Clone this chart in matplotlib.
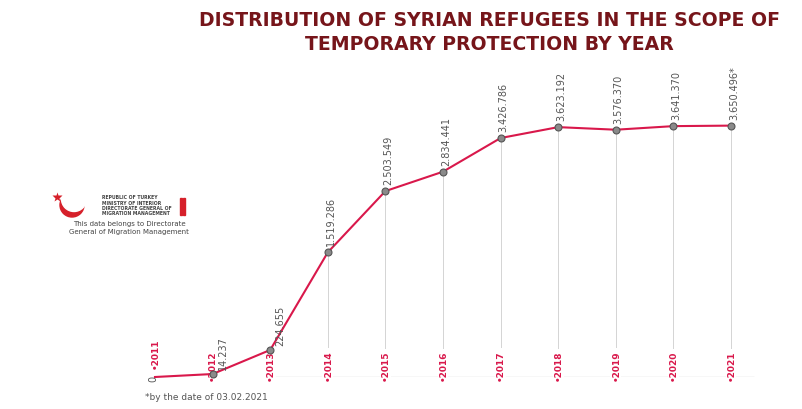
import numpy as np
import matplotlib
matplotlib.use("Agg")
import matplotlib.pyplot as plt
from matplotlib.patches import Circle, Rectangle

# data
years = ["2011", "2012", "2013", "2014", "2015", "2016", "2017", "2018", "2019", "2020", "2021"]
refugees = [0, 14237, 224655, 1519286, 2503549, 2834441, 3426786, 3623192, 3576370, 3641370, 3650496]
value_labels = ["0", "14.237", "224.655", "1.519.286", "2.503.549", "2.834.441",
                "3.426.786", "3.623.192", "3.576.370", "3.641.370", "3.650.496*"]

line_col = "#d9184b"
title_col = "#76151a"
narrow = ["Liberation Sans Narrow", "DejaVu Sans"]

fig = plt.figure(figsize=(8.02, 4.10), dpi=100)
fig.patch.set_facecolor("white")

# main axes, 0 sits at pixel y=378
ax = fig.add_axes([100 / 802, 1 - 378 / 410, 680 / 802, 278 / 410])
ax.axis("off")

# the infographic is not drawn linearly, a mild power scale is close
def fwd(v):
    v = np.asarray(v, dtype=float)
    return np.sign(v) * np.abs(v) ** 0.8

def inv(v):
    v = np.asarray(v, dtype=float)
    return np.sign(v) * np.abs(v) ** 1.25

ax.set_yscale("function", functions=(fwd, inv))
x = np.arange(len(years))
ax.set_xlim(-(155 - 100) / 57.6, 10 + (780 - 731) / 57.6)
ax.set_ylim(0, 4.14e6)

# thin drop lines and base line
ax.vlines(x[1:], 0, refugees[1:], color="#d4d4d4", lw=0.7, zorder=1)
ax.hlines(0, 2.05, 10.4, color="#d8d8d8", lw=1.0, zorder=1)

ax.plot(x, refugees, color=line_col, lw=1.5, zorder=3, clip_on=False)
ax.plot(x[1:], refugees[1:], "o", ms=5, mfc="#8a8a8a", mec="#555555", mew=0.8,
        zorder=4, clip_on=False)

for i, (v, lab) in enumerate(zip(refugees, value_labels)):
    if i == 0:
        xy_off, ha, off = (-2, -4), "center", 9
    elif i in (1, 2):
        # point sits close to the year label band, keep the number beside it
        xy_off, ha, off = (5, 5), "left", -3
    else:
        xy_off, ha, off = (3, 7), "center", -3
    ax.annotate(lab, (i, v), xytext=xy_off, textcoords="offset pixels",
                rotation=90, ha=ha, va="bottom", fontsize=7,
                color="#555555", family=narrow, annotation_clip=False, zorder=6)
    ax.annotate("\u2022" + years[i], (i, 0), xytext=(0, off), textcoords="offset pixels",
                rotation=90, ha="center", va="bottom", fontsize=6.5, fontweight="bold",
                color=line_col, family=narrow, annotation_clip=False, zorder=2,
                bbox=dict(boxstyle="square,pad=0.1", fc="white", ec="none"))

# title
fig.text(489 / 802, 1 - 20 / 410, "DISTRIBUTION OF SYRIAN REFUGEES IN THE SCOPE OF",
         ha="center", va="center", fontsize=13.6, fontweight="bold", color=title_col)
fig.text(489 / 802, 1 - 45 / 410, "TEMPORARY PROTECTION BY YEAR",
         ha="center", va="center", fontsize=13.6, fontweight="bold", color=title_col)

# logo
lax = fig.add_axes([45 / 802, 1 - 222 / 410, 55 / 802, 30 / 410])
lax.set_xlim(0, 55)
lax.set_ylim(0, 30)
lax.set_aspect("equal")
lax.axis("off")
lax.add_patch(Circle((27, 16), 12, color="#d6202a"))
lax.add_patch(Circle((29, 22), 12.5, color="white"))
lax.plot([12], [24], marker="*", ms=7, color="#d6202a", mec="none")

logo_lines = ["REPUBLIC OF TURKEY", "MINISTRY OF INTERIOR",
              "DIRECTORATE GENERAL OF", "MIGRATION MANAGEMENT"]
for k, t in enumerate(logo_lines):
    fig.text(102 / 802, 1 - (198 + k * 5.2) / 410, t, ha="left", va="center",
             fontsize=3.3, fontweight="bold", color="#444444")
fig.patches.append(Rectangle((180 / 802, 1 - 216 / 410), 1.5 / 802, 17 / 410,
                             transform=fig.transFigure, color="#d6202a"))
fig.patches.append(Rectangle((183 / 802, 1 - 216 / 410), 1.5 / 802, 17 / 410,
                             transform=fig.transFigure, color="#d6202a"))
fig.text(129 / 802, 1 - 224 / 410, "This data belongs to Directorate", ha="center",
         va="center", fontsize=5, color="#444444")
fig.text(129 / 802, 1 - 232 / 410, "General of Migration Management", ha="center",
         va="center", fontsize=5, color="#444444")

# footnote
fig.text(145 / 802, 1 - 398 / 410, "*by the date of 03.02.2021", ha="left", va="center",
         fontsize=6.5, color="#555555")

fig.savefig("out.png", dpi=100, facecolor="white")
